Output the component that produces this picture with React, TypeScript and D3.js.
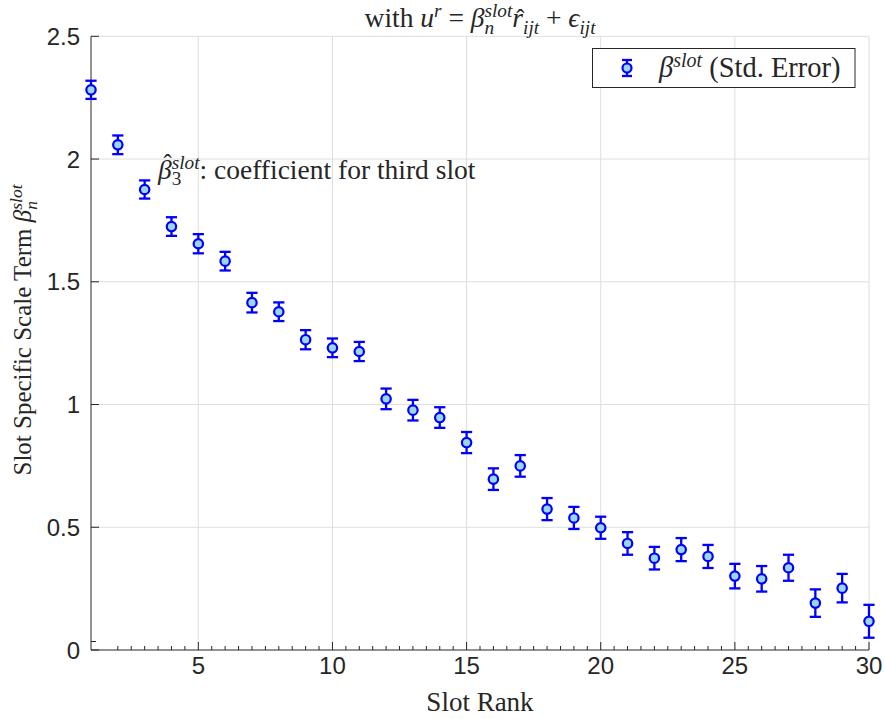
import React, { useEffect, useRef } from 'react';
import * as d3 from 'd3';

const slotRank = [1, 2, 3, 4, 5, 6, 7, 8, 9, 10, 11, 12, 13, 14, 15, 16, 17, 18, 19, 20, 21, 22, 23, 24, 25, 26, 27, 28, 29, 30];
const betaSlot = [2.282, 2.058, 1.876, 1.725, 1.655, 1.584, 1.415, 1.378, 1.264, 1.231, 1.216, 1.023, 0.977, 0.947, 0.845, 0.696, 0.75, 0.574, 0.538, 0.498, 0.434, 0.374, 0.409, 0.381, 0.301, 0.29, 0.335, 0.191, 0.252, 0.117];
const stdError = [0.037, 0.038, 0.037, 0.038, 0.039, 0.038, 0.04, 0.038, 0.039, 0.038, 0.039, 0.042, 0.042, 0.042, 0.043, 0.044, 0.044, 0.045, 0.045, 0.045, 0.046, 0.046, 0.047, 0.047, 0.05, 0.052, 0.053, 0.056, 0.058, 0.067];
const xTicks = [5, 10, 15, 20, 25, 30];
const yTicks = [0, 0.5, 1, 1.5, 2, 2.5];
const yTickLabels = ['0', '0.5', '1', '1.5', '2', '2.5'];

type Seg = { t: string; it?: boolean; s?: 'sup' | 'sub'; stack?: boolean; hat?: number };

const SERIF = '"Liberation Serif", "DejaVu Serif", serif';
const SANS = '"Liberation Sans", Arial, sans-serif';
const AX = '#262626';
const BLUE = '#0000ff';
const FACE = '#9ad6ec';

function drawMath(parent: any, segs: Seg[], fs: number) {
  const g = parent.append('g');
  let x = 0;
  let scriptStart = 0;
  let scriptEnd = 0;
  segs.forEach((seg) => {
    const size = seg.s ? fs * 0.7 : fs;
    const dy = seg.s === 'sup' ? -0.36 * fs : seg.s === 'sub' ? 0.24 * fs : 0;
    const x0 = seg.stack ? scriptStart : x;
    const t = g
      .append('text')
      .attr('x', x0)
      .attr('y', dy)
      .attr('font-size', size)
      .attr('font-family', SERIF)
      .attr('font-style', seg.it ? 'italic' : 'normal')
      .attr('fill', AX)
      .style('white-space', 'pre')
      .text(seg.t);
    const w = (t.node() as SVGTextElement).getComputedTextLength();
    if (seg.hat !== undefined) {
      g.append('text')
        .attr('x', x0 + w / 2 + 0.1 * fs)
        .attr('y', dy - seg.hat * fs)
        .attr('font-size', size * 0.9)
        .attr('font-family', SERIF)
        .attr('text-anchor', 'middle')
        .attr('fill', AX)
        .text('\u02C6');
    }
    if (seg.stack) {
      x = Math.max(scriptEnd, x0 + w);
      scriptEnd = x;
    } else if (seg.s) {
      scriptStart = x0;
      x = x0 + w;
      scriptEnd = x;
    } else {
      x = x0 + w;
    }
  });
  return { g, width: x };
}

export default function App() {
  const ref = useRef<SVGSVGElement>(null);

  useEffect(() => {
    const svg = d3.select(ref.current);
    svg.selectAll('*').remove();
    const W = 885;
    const H = 719;
    const x = d3.scaleLinear().domain([1, 30]).range([91, 869]);
    const y = d3.scaleLinear().domain([0, 2.5]).range([650, 36.3]);

    svg.append('rect').attr('width', W).attr('height', H).attr('fill', '#fff');

    // grid
    const grid = svg.append('g').attr('stroke', '#dedede').attr('stroke-width', 1);
    xTicks.forEach((t) => {
      grid.append('line').attr('x1', x(t)).attr('x2', x(t)).attr('y1', y(0)).attr('y2', y(2.5));
    });
    yTicks.slice(1).forEach((t) => {
      grid.append('line').attr('x1', x(1)).attr('x2', x(30)).attr('y1', y(t)).attr('y2', y(t));
    });

    // axes
    const axes = svg.append('g').attr('stroke', AX).attr('stroke-width', 1);
    axes.append('line').attr('x1', x(1)).attr('x2', x(1)).attr('y1', y(0)).attr('y2', y(2.5));
    axes.append('line').attr('x1', x(1)).attr('x2', x(30)).attr('y1', y(0)).attr('y2', y(0));
    const minor = d3.range(2, 60).map((i) => 1 + i * 0.5).filter((v) => v <= 30);
    minor.forEach((v) => {
      const major = xTicks.includes(v);
      axes
        .append('line')
        .attr('x1', x(v))
        .attr('x2', x(v))
        .attr('y1', y(0))
        .attr('y2', y(0) - (major ? 8 : 4));
    });
    yTicks.forEach((t) => {
      axes.append('line').attr('x1', x(1)).attr('x2', x(1) + 8).attr('y1', y(t)).attr('y2', y(t));
    });
    axes.append('line').attr('x1', x(1)).attr('x2', x(1) + 5).attr('y1', y(0) - 8.5).attr('y2', y(0) - 8.5);

    // tick labels
    const tl = svg.append('g').attr('font-family', SANS).attr('font-size', 24).attr('fill', AX);
    xTicks.forEach((t) => {
      tl.append('text').attr('x', x(t)).attr('y', 674).attr('text-anchor', 'middle').text(String(t));
    });
    yTicks.forEach((t, i) => {
      tl.append('text')
        .attr('x', 80)
        .attr('y', y(t) + 8.5)
        .attr('text-anchor', 'end')
        .text(yTickLabels[i]);
    });

    // error bars
    const eb = svg.append('g').attr('stroke', BLUE).attr('stroke-width', 2.3);
    slotRank.forEach((s, i) => {
      const cx = x(s);
      const lo = y(betaSlot[i] - stdError[i]);
      const hi = y(betaSlot[i] + stdError[i]);
      eb.append('line').attr('x1', cx).attr('x2', cx).attr('y1', lo).attr('y2', hi);
      eb.append('line').attr('x1', cx - 5.6).attr('x2', cx + 5.6).attr('y1', lo).attr('y2', lo);
      eb.append('line').attr('x1', cx - 5.6).attr('x2', cx + 5.6).attr('y1', hi).attr('y2', hi);
    });
    svg
      .append('g')
      .selectAll('circle')
      .data(slotRank)
      .join('circle')
      .attr('cx', (d) => x(d))
      .attr('cy', (_d, i) => y(betaSlot[i]))
      .attr('r', 4.7)
      .attr('fill', FACE)
      .attr('stroke', BLUE)
      .attr('stroke-width', 2.2);

    // title
    const title = drawMath(
      svg,
      [
        { t: 'with ' },
        { t: 'u', it: true },
        { t: 'r', it: true, s: 'sup' },
        { t: ' = ' },
        { t: 'β', it: true },
        { t: 'slot', it: true, s: 'sup' },
        { t: 'n', it: true, s: 'sub', stack: true },
        { t: 'r', it: true, hat: 0 },
        { t: 'ijt', it: true, s: 'sub' },
        { t: ' + ' },
        { t: 'ϵ', it: true },
        { t: 'ijt', it: true, s: 'sub' },
      ],
      27.5
    );
    title.g.attr('transform', `translate(${480 - title.width / 2},27)`);

    // x label
    svg
      .append('text')
      .attr('x', 480)
      .attr('y', 711)
      .attr('text-anchor', 'middle')
      .attr('font-family', SERIF)
      .attr('font-size', 27)
      .attr('fill', AX)
      .text('Slot Rank');

    // y label
    const yl = drawMath(
      svg,
      [
        { t: 'Slot Specific Scale Term ' },
        { t: 'β', it: true },
        { t: 'slot', it: true, s: 'sup' },
        { t: 'n', it: true, s: 'sub', stack: true },
      ],
      25
    );
    yl.g.attr('transform', `translate(31,${330 + yl.width / 2}) rotate(-90)`);

    // annotation
    const ann = drawMath(
      svg,
      [
        { t: 'β', it: true, hat: 0.22 },
        { t: 'slot', it: true, s: 'sup' },
        { t: '3', s: 'sub', stack: true },
        { t: ': coefficient for third slot' },
      ],
      27.5
    );
    ann.g.attr('transform', 'translate(158,178.5)');

    // legend
    const lg = svg.append('g');
    lg.append('rect')
      .attr('x', 592.5)
      .attr('y', 48.5)
      .attr('width', 262.5)
      .attr('height', 39)
      .attr('fill', '#fff')
      .attr('stroke', AX)
      .attr('stroke-width', 1);
    const lx = 627;
    const ly = 68;
    const lgb = lg.append('g').attr('stroke', BLUE).attr('stroke-width', 2.3);
    lgb.append('line').attr('x1', lx).attr('x2', lx).attr('y1', ly - 8).attr('y2', ly + 8);
    lgb.append('line').attr('x1', lx - 5).attr('x2', lx + 5).attr('y1', ly - 8).attr('y2', ly - 8);
    lgb.append('line').attr('x1', lx - 5).attr('x2', lx + 5).attr('y1', ly + 8).attr('y2', ly + 8);
    lg.append('circle').attr('cx', lx).attr('cy', ly).attr('r', 4.5).attr('fill', FACE).attr('stroke', BLUE).attr('stroke-width', 2.2);
    const lt = drawMath(
      lg,
      [
        { t: 'β', it: true },
        { t: 'slot', it: true, s: 'sup' },
        { t: ' (Std. Error)' },
      ],
      28.5
    );
    lt.g.attr('transform', 'translate(659,77)');
  }, []);

  return (
    <svg
      ref={ref}
      width={885}
      height={719}
      style={{ position: 'absolute', left: 0, top: 0, display: 'block' }}
    />
  );
}
